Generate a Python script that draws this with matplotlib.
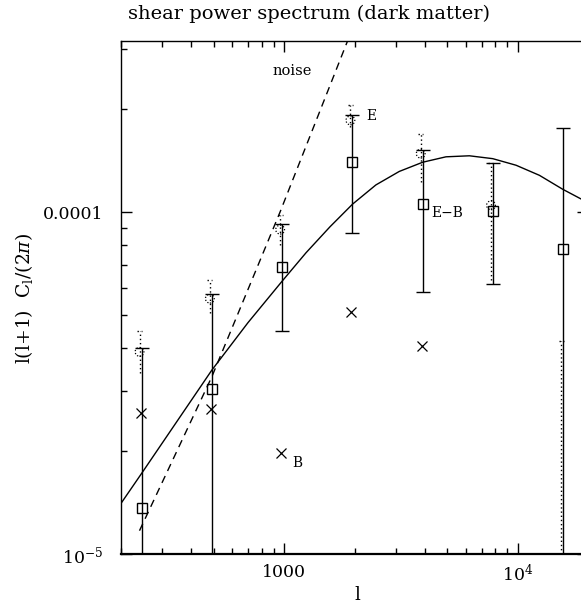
import matplotlib
matplotlib.use("Agg")
import matplotlib.pyplot as plt
import numpy as np

plt.rcParams['font.family'] = ['DejaVu Serif']
plt.rcParams['mathtext.fontset'] = 'dejavuserif'

# multipole bins
ell = [245, 490, 980, 1960, 3920, 7840, 15680]

# E-B points (squares, solid error bars)
eb_val = [1.36e-5, 3.03e-5, 6.91e-5, 1.40e-4, 1.053e-4, 1.005e-4, 7.78e-5]
eb_hi = [3.99e-5, 5.75e-5, 9.25e-5, 1.92e-4, 1.521e-4, 1.39e-4, 1.764e-4]
eb_lo = [1e-7, 1e-7, 4.49e-5, 8.68e-5, 5.83e-5, 6.15e-5, 1e-7]

# E points (dotted circles, dotted error bars)
e_val = [3.9e-5, 5.58e-5, 8.88e-5, 1.853e-4, 1.481e-4, 1.046e-4, 1e-7]
e_hi = [4.49e-5, 6.31e-5, 9.78e-5, 2.05e-4, 1.694e-4, 1.388e-4, 4.2e-5]
e_lo = [3.38e-5, 5.07e-5, 7.99e-5, 1.771e-4, 1.224e-4, 6.31e-5, 1e-7]

# B points (crosses)
b_ell = [245, 490, 980, 1960, 3920]
b_val = [2.58e-5, 2.65e-5, 1.98e-5, 5.1e-5, 4.06e-5]

# theory curve
th_ell = [200, 245, 490, 700, 984, 1240, 1570, 1964, 2470, 3110, 3917,
          4930, 6210, 7820, 9840, 12390, 15600, 20000]
th_val = [1.406e-5, 1.72e-5, 3.45e-5, 4.75e-5, 6.3e-5, 7.6e-5, 9.05e-5,
          1.055e-4, 1.2e-4, 1.314e-4, 1.398e-4, 1.45e-4, 1.46e-4,
          1.432e-4, 1.37e-4, 1.28e-4, 1.165e-4, 1.065e-4]

# noise
noise_ell = [240, 490, 960, 1980]
noise_val = [1.17e-5, 3.3e-5, 1.0e-4, 3.5e-4]

fig = plt.figure(figsize=(5.81, 6.03), dpi=100)
ax = fig.add_axes([121 / 581, 49 / 603, 467 / 581, 513 / 603])
ax.set_xscale('log')
ax.set_yscale('log')

ell_a = np.array(ell, dtype=float)

# theory and noise
ax.plot(th_ell, th_val, color='black', lw=1.0)
ax.plot(noise_ell, noise_val, color='black', lw=1.0, ls=(0, (5.5, 4)))

# E-B with solid bars
v = np.array(eb_val)
ax.errorbar(ell_a, v, yerr=[v - np.array(eb_lo), np.array(eb_hi) - v],
            fmt='s', mfc='none', mec='black', mew=1.0, ms=7.5,
            ecolor='black', elinewidth=1.0, capsize=4.7, capthick=1.0)

# E with dotted bars
ex = ell_a * 0.98
ax.vlines(ex, e_lo, e_hi, colors='black', linestyles=(0, (1, 2)), lw=1.0)
ax.hlines(e_hi, ex * 0.975, ex * 1.025, colors='black',
          linestyles=(0, (1, 2)), lw=1.0)
ax.scatter(ex, e_val, s=40, marker='o', facecolors='none',
           edgecolors='black', linestyles=(0, (1, 1.5)), lw=0.9, zorder=3)

# B crosses
ax.plot(np.array(b_ell) * 0.99, b_val, 'x', color='black', ms=6.5, mew=0.9)

# annotations
ax.text(1079, 2.58e-4, 'noise', fontsize=10.5, ha='center', va='center')
ax.text(2240, 1.91e-4, 'E', fontsize=10, ha='left', va='center')
ax.text(4281, 9.9e-5, 'E\u2212B', fontsize=10, ha='left', va='center')
ax.text(1086, 1.84e-5, 'B', fontsize=10, ha='left', va='center')

ax.set_xlim(200, 20000)
ax.set_ylim(1e-5, 10 ** -3.5)

ax.set_xticks([1000, 10000])
ax.set_xticklabels(['1000', '$10^4$'])
ax.set_yticks([1e-5, 1e-4])
ax.set_yticklabels(['$10^{-5}$', '0.0001'])

ax.tick_params(which='both', direction='in', top=True, right=True,
               labelsize=12.5, width=1.0)
ax.tick_params(which='major', length=8)
ax.tick_params(which='minor', length=4.5)
ax.tick_params(axis='x', pad=7)
ax.tick_params(axis='y', pad=12.5)

for s in ax.spines.values():
    s.set_linewidth(1.0)
ax.spines['bottom'].set_linewidth(1.6)

fig.text(309 / 581, 1 - 14 / 603, 'shear power spectrum (dark matter)',
         fontsize=14, ha='center', va='center')
fig.text(24 / 581, 1 - 298 / 603, r'l(l+1)  C$_{\rm l}$/(2$\pi$)',
         fontsize=13.5, rotation=90, ha='center', va='center')
fig.text(357 / 581, 3 / 603, 'l', fontsize=13,
         ha='center', va='baseline')

fig.savefig('out.png', dpi=100)
